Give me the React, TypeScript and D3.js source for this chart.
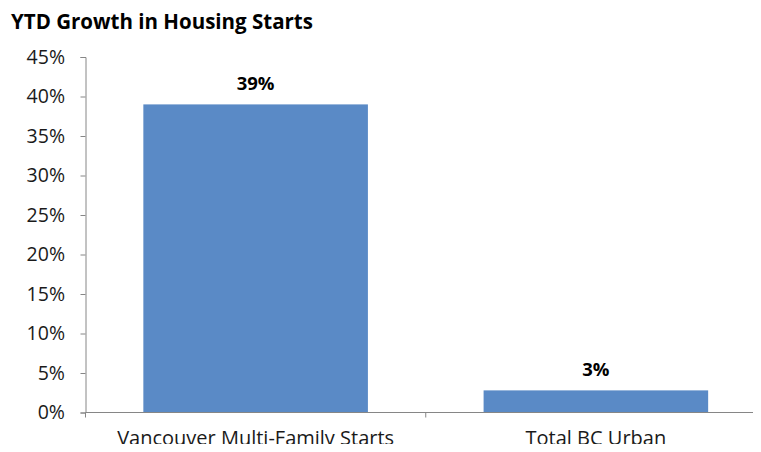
import * as d3 from "d3";
import { useEffect, useRef } from "react";

const categories = ["Vancouver Multi-Family Starts", "Total BC Urban"];
const values = [0.39, 0.028];
const valueLabels = ["39%", "3%"];
const yTicks = [0, 0.05, 0.1, 0.15, 0.2, 0.25, 0.3, 0.35, 0.4, 0.45];

export default function App() {
  const svgRef = useRef<SVGSVGElement | null>(null);

  useEffect(() => {
    if (!svgRef.current) return;
    const svg = d3.select(svgRef.current);
    svg.selectAll("*").remove();

    const width = 761;
    const height = 452;
    const font = "'Open Sans', sans-serif";
    const left = 85.5;
    const right = 766;
    const top = 57;
    const bottom = 412.5;

    svg.attr("width", width).attr("height", height).style("display", "block");

    svg.append("text")
      .attr("x", 11)
      .attr("y", 29)
      .attr("font-family", font)
      .attr("font-weight", "bold")
      .attr("font-size", 20.5)
      .attr("fill", "#000")
      .text("YTD Growth in Housing Starts");

    const x = d3.scaleBand().domain(categories).range([left, right]).paddingInner(0.34).paddingOuter(0.17);
    const y = d3.scaleLinear().domain([0, 0.45]).range([bottom, top]);

    // bars
    svg.append("g")
      .selectAll("rect")
      .data(categories)
      .enter()
      .append("rect")
      .attr("x", (d) => x(d)!)
      .attr("y", (d, i) => y(values[i]))
      .attr("width", x.bandwidth())
      .attr("height", (d, i) => y(0) - y(values[i]))
      .attr("fill", "#5A8AC6");

    // y axis
    const yAxis = svg.append("g")
      .attr("transform", `translate(${left},0)`)
      .call(d3.axisLeft(y).tickValues(yTicks).tickSize(5).tickPadding(15.5).tickFormat((d) => `${Math.round(+d * 100)}%`));
    yAxis.select(".domain").attr("stroke", "#868686");
    yAxis.selectAll(".tick line").attr("stroke", "#868686");
    yAxis.selectAll(".tick text")
      .attr("font-family", font)
      .attr("font-size", 19.5)
      .attr("fill", "#1a1a1a");

    // x axis
    const xAxis = svg.append("g")
      .attr("transform", `translate(0,${bottom})`)
      .call(d3.axisBottom(x).tickSize(0).tickPadding(0));
    xAxis.select(".domain").attr("d", `M${left},0H${width}`).attr("stroke", "#868686");
    xAxis.selectAll(".tick text")
      .attr("y", 0)
      .attr("dy", 0)
      .attr("transform", "translate(0,32)")
      .attr("font-family", font)
      .attr("font-size", 20)
      .attr("fill", "#1a1a1a");
    const step = x.step();
    xAxis.selectAll(".boundary")
      .data([left, left + step])
      .enter()
      .append("line")
      .attr("x1", (d) => d)
      .attr("x2", (d) => d)
      .attr("y1", 0)
      .attr("y2", 5)
      .attr("stroke", "#868686");

    // value labels
    svg.append("g")
      .selectAll("text")
      .data(categories)
      .enter()
      .append("text")
      .attr("x", (d) => x(d)! + x.bandwidth() / 2)
      .attr("y", (d, i) => y(values[i]) - 14)
      .attr("text-anchor", "middle")
      .attr("font-family", font)
      .attr("font-weight", "bold")
      .attr("font-size", 18.5)
      .attr("fill", "#000")
      .text((d, i) => valueLabels[i]);
  }, []);

  return (
    <div style={{ margin: -8 }}>
      <svg ref={svgRef}></svg>
    </div>
  );
}
